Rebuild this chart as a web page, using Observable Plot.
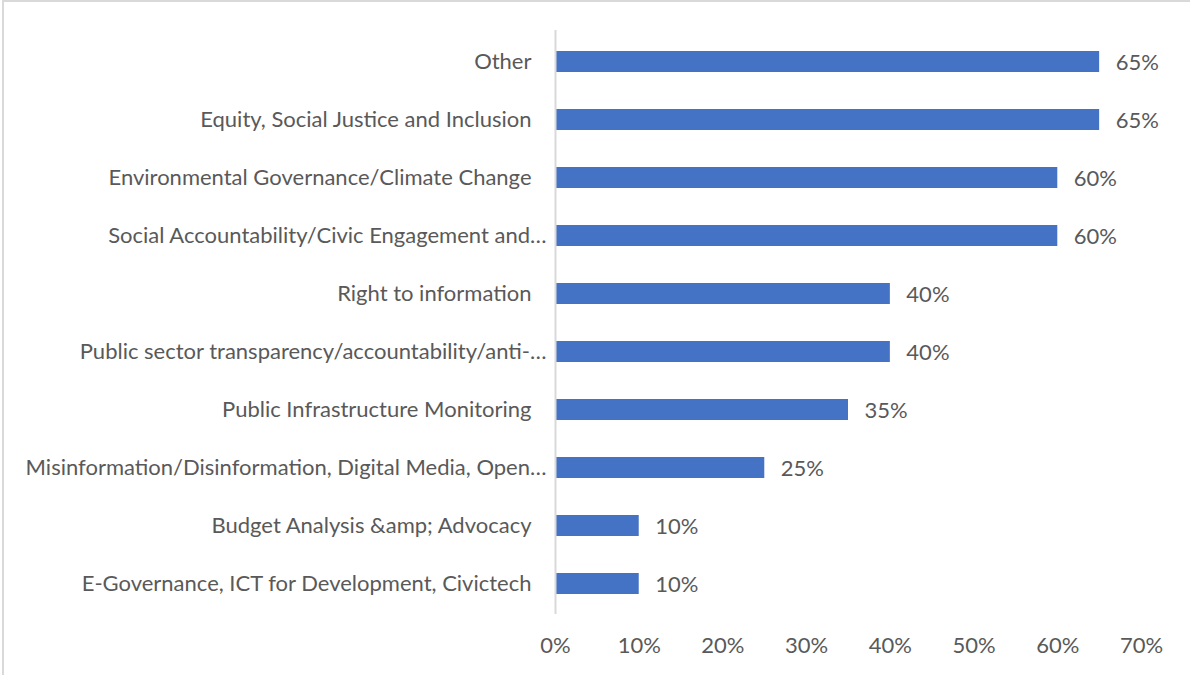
<!DOCTYPE html>
<html>
<head>
<meta charset="utf-8">
<script src="https://cdn.jsdelivr.net/npm/d3@7"></script>
<script src="https://cdn.jsdelivr.net/npm/@observablehq/plot@0.6"></script>
<style>
  html, body { margin: 0; padding: 0; background: #fff; }
  #wrap { position: relative; width: 1190px; height: 675px; overflow: hidden; }
  #frame { position: absolute; left: 2px; top: 0; width: 1200px; height: 700px;
           border-left: 2px solid #d9d9d9; border-top: 2px solid #d9d9d9; pointer-events: none; }
</style>
</head>
<body>
<div id="wrap"><div id="frame"></div></div>
<script>
const categories = [
  "Other",
  "Equity, Social Justice and Inclusion",
  "Environmental Governance/Climate Change",
  "Social Accountability/Civic Engagement and…",
  "Right to information",
  "Public sector transparency/accountability/anti-…",
  "Public Infrastructure Monitoring",
  "Misinformation/Disinformation, Digital Media, Open…",
  "Budget Analysis &amp; Advocacy",
  "E-Governance, ICT for Development, Civictech"
];
const values = [0.65, 0.65, 0.60, 0.60, 0.40, 0.40, 0.35, 0.25, 0.10, 0.10];
const xTicks = [0, 0.1, 0.2, 0.3, 0.4, 0.5, 0.6, 0.7];

const data = categories.map((c, i) => ({category: c, value: values[i]}));
const pct = d3.format(".0%");
const textColor = "#595959";
const truncated = categories.filter(c => c.endsWith("…"));
const full = categories.filter(c => !c.endsWith("…"));

const chart = Plot.plot({
  width: 1190,
  height: 675,
  marginLeft: 555,
  marginRight: 49,
  marginTop: 30,
  marginBottom: 61,
  style: {fontFamily: "Lato, 'Open Sans', sans-serif", fontSize: "22px", color: textColor, background: "transparent"},
  x: {domain: [0, 0.7], label: null},
  y: {domain: categories, paddingInner: 0.64, paddingOuter: 0.32, label: null},
  marks: [
    Plot.axisX({ticks: xTicks, tickSize: 0, tickPadding: 23, tickFormat: pct, fontSize: 22, fill: textColor, label: null}),
    Plot.axisY({ticks: full, tickSize: 0, tickPadding: 24, fontSize: 22, fill: textColor, label: null}),
    Plot.axisY({ticks: truncated, tickSize: 0, tickPadding: 9, fontSize: 22, fill: textColor, label: null}),
    Plot.barX(data, {x: "value", y: "category", fill: "#4472C4"}),
    Plot.ruleX([0], {stroke: "#d9d9d9", strokeWidth: 2}),
    Plot.text(data, {x: "value", y: "category", text: d => pct(d.value), textAnchor: "start", dx: 16, dy: 1, fontSize: 22, fill: textColor})
  ]
});
document.getElementById("wrap").prepend(chart);
</script>
</body>
</html>
